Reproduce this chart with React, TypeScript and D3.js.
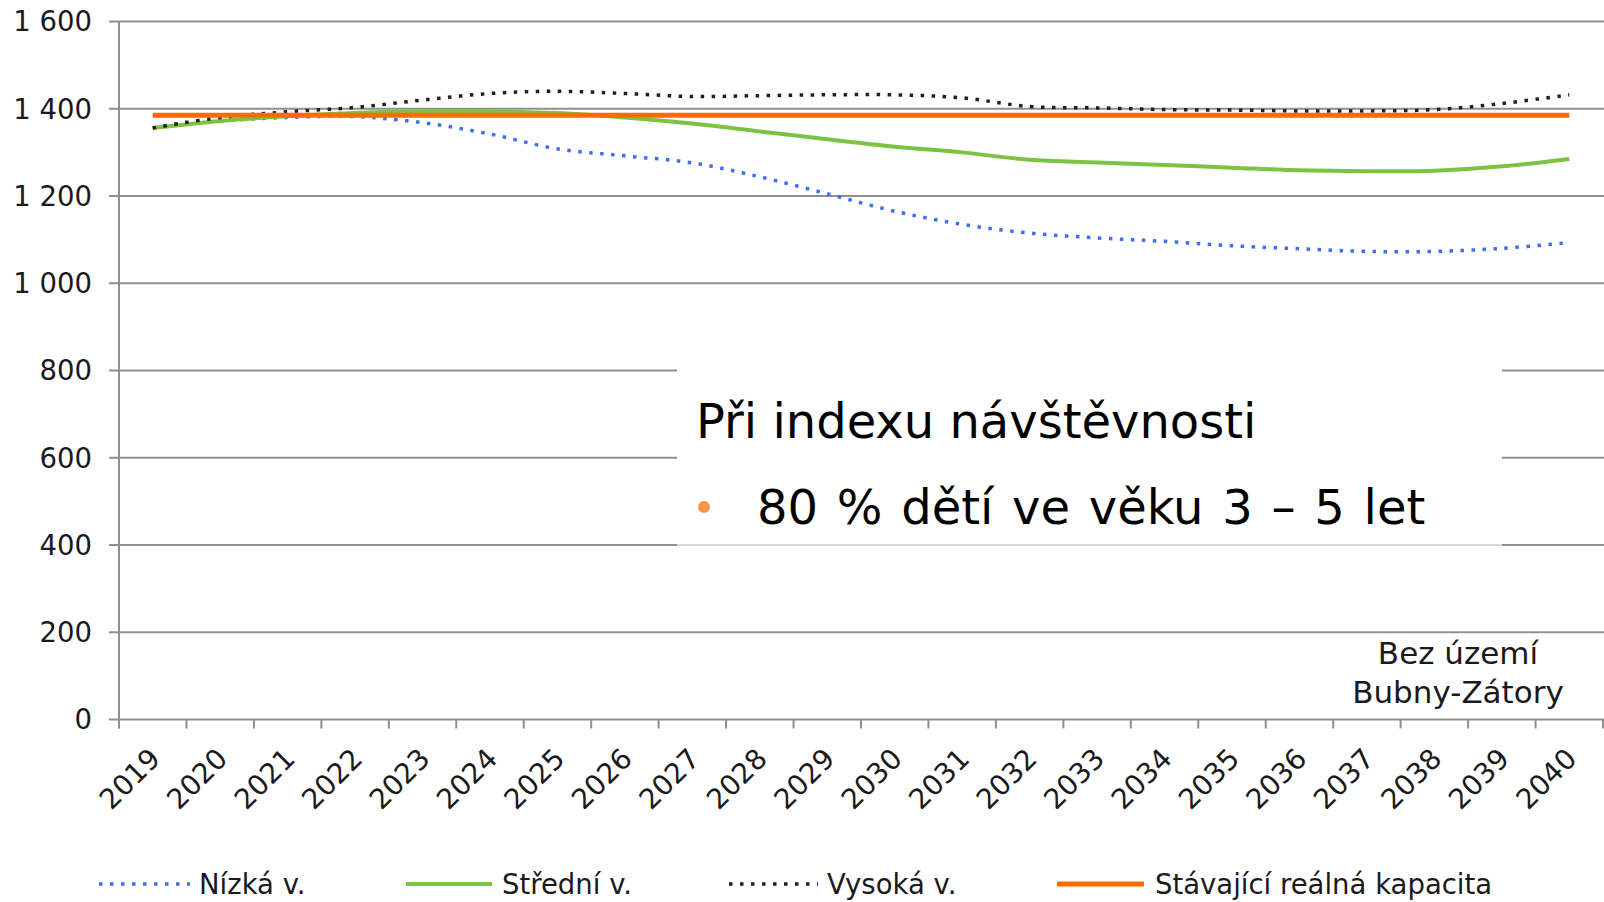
import { useEffect, useRef } from "react";
import * as d3 from "d3";

const years = [
    "2019", "2020", "2021", "2022", "2023", "2024", "2025", "2026", "2027", "2028", "2029",
    "2030", "2031", "2032", "2033", "2034", "2035", "2036", "2037", "2038", "2039", "2040",
];
const nizka = [
    1356, 1372, 1380, 1382, 1368, 1342, 1308, 1292, 1276, 1244, 1205,
    1165, 1135, 1115, 1104, 1096, 1086, 1079, 1073, 1073, 1080, 1093,
];
const stredni = [
    1356, 1372, 1383, 1390, 1394, 1394, 1390, 1380, 1366, 1348, 1330,
    1313, 1300, 1283, 1277, 1271, 1265, 1259, 1257, 1258, 1268, 1285,
];
const vysoka = [
    1356, 1380, 1393, 1403, 1420, 1435, 1440, 1435, 1428, 1430, 1432,
    1432, 1425, 1405, 1402, 1398, 1397, 1395, 1395, 1398, 1412, 1432,
];
const kapacita = [
    1385, 1385, 1385, 1385, 1385, 1385, 1385, 1385, 1385, 1385, 1385,
    1385, 1385, 1385, 1385, 1385, 1385, 1385, 1385, 1385, 1385, 1385,
];
const yTicks = [0, 200, 400, 600, 800, 1000, 1200, 1400, 1600];

const series = [
    { name: "Nízká v.", values: nizka, color: "#3f6ef5", width: 3.5, dash: "3.5 7.5" },
    { name: "Střední v.", values: stredni, color: "#7cc243", width: 4, dash: null },
    { name: "Vysoká v.", values: vysoka, color: "#1f1f1f", width: 3.5, dash: "3.5 7.5" },
    { name: "Stávající reálná kapacita", values: kapacita, color: "#ff6a00", width: 5, dash: null },
];

export default function App() {
    const svgRef = useRef<SVGSVGElement | null>(null);

    useEffect(() => {
        if (!svgRef.current) return;
        d3.select(svgRef.current).selectAll("*").remove();

        const width = 1604;
        const height = 902;
        const font = "DejaVu Sans, Verdana, sans-serif";

        const svg = d3
            .select(svgRef.current)
            .attr("width", width)
            .attr("height", height)
            .style("font-family", font);

        svg.append("rect").attr("width", width).attr("height", height).attr("fill", "#ffffff");

        const x = d3.scaleBand().domain(years).range([119, 1603]);
        const y = d3.scaleLinear().domain([0, 1600]).range([719.5, 21.5]);
        const fmt = d3.formatLocale({ thousands: " ", grouping: [3], decimal: ",", currency: ["", ""] }).format(",");

        // gridlines
        svg.append("g")
            .selectAll("line")
            .data(yTicks)
            .enter()
            .append("line")
            .attr("x1", 109)
            .attr("x2", width)
            .attr("y1", (d) => y(d))
            .attr("y2", (d) => y(d))
            .attr("stroke", "#8f8f8f")
            .attr("stroke-width", 2);

        // y axis line
        svg.append("line")
            .attr("x1", 119)
            .attr("x2", 119)
            .attr("y1", y(1600))
            .attr("y2", y(0) + 9)
            .attr("stroke", "#8f8f8f")
            .attr("stroke-width", 2);

        // x ticks at band boundaries
        const bounds = years.map((d) => x(d) as number).concat([x.range()[1]]);
        svg.append("g")
            .selectAll("line")
            .data(bounds)
            .enter()
            .append("line")
            .attr("x1", (d) => d)
            .attr("x2", (d) => d)
            .attr("y1", y(0))
            .attr("y2", y(0) + 9)
            .attr("stroke", "#8f8f8f")
            .attr("stroke-width", 2);

        // y labels
        svg.append("g")
            .selectAll("text")
            .data(yTicks)
            .enter()
            .append("text")
            .attr("x", 92)
            .attr("y", (d) => y(d))
            .attr("dy", "0.36em")
            .attr("text-anchor", "end")
            .attr("font-size", "27.5px")
            .attr("fill", "#1a1a1a")
            .text((d) => fmt(d));

        // x labels
        svg.append("g")
            .selectAll("text")
            .data(years)
            .enter()
            .append("text")
            .attr("transform", (d) => `translate(${(x(d) as number) + x.bandwidth() / 2 + 9},${y(0) + 41}) rotate(-45)`)
            .attr("text-anchor", "end")
            .attr("font-size", "28px")
            .attr("fill", "#1a1a1a")
            .text((d) => d);

        // lines
        const line = d3
            .line<number>()
            .x((_, i) => (x(years[i]) as number) + x.bandwidth() / 2)
            .y((d) => y(d))
            .curve(d3.curveCatmullRom.alpha(0.5));

        series.forEach((s) => {
            svg.append("path")
                .datum(s.values)
                .attr("d", line)
                .attr("fill", "none")
                .attr("stroke", s.color)
                .attr("stroke-width", s.width)
                .attr("stroke-dasharray", s.dash)
                .attr("stroke-linecap", "butt");
        });

        // text box over the chart
        svg.append("rect")
            .attr("x", 677)
            .attr("y", 352)
            .attr("width", 825)
            .attr("height", y(400) - 352 - 1)
            .attr("fill", "#ffffff");
        svg.append("line")
            .attr("x1", 677)
            .attr("x2", 1502)
            .attr("y1", y(400))
            .attr("y2", y(400))
            .attr("stroke", "#d9d9d9")
            .attr("stroke-width", 2);

        svg.append("text")
            .attr("x", 696)
            .attr("y", 438)
            .attr("font-size", "48px")
            .attr("fill", "#000000")
            .text("Při indexu návštěvnosti");
        svg.append("circle")
            .attr("cx", 704)
            .attr("cy", 507)
            .attr("r", 6)
            .attr("fill", "#f79646");
        svg.append("text")
            .attr("x", 757)
            .attr("y", 524)
            .attr("font-size", "48px")
            .attr("word-spacing", "3.5px")
            .attr("fill", "#000000")
            .text("80 % dětí ve věku 3 – 5 let");

        // note
        const note = svg.append("text")
            .attr("text-anchor", "middle")
            .attr("font-size", "31px")
            .attr("fill", "#1a1a1a");
        note.append("tspan").attr("x", 1458).attr("y", 664).text("Bez území");
        note.append("tspan").attr("x", 1458).attr("y", 703).text("Bubny-Zátory");

        // legend
        const legendItems = [
            { x1: 99, x2: 190, tx: 199 },
            { x1: 406, x2: 492, tx: 502 },
            { x1: 729, x2: 818, tx: 827 },
            { x1: 1057, x2: 1144, tx: 1155 },
        ];
        const legend = svg
            .selectAll(".legend")
            .data(series)
            .enter()
            .append("g")
            .attr("class", "legend");

        legend
            .append("line")
            .attr("x1", (_, i) => legendItems[i].x1)
            .attr("x2", (_, i) => legendItems[i].x2)
            .attr("y1", 884)
            .attr("y2", 884)
            .attr("stroke", (d) => d.color)
            .attr("stroke-width", (d) => d.width)
            .attr("stroke-dasharray", (d) => d.dash);

        legend
            .append("text")
            .attr("x", (_, i) => legendItems[i].tx)
            .attr("y", 884)
            .attr("dy", "0.36em")
            .attr("font-size", "27.5px")
            .attr("fill", "#1a1a1a")
            .text((d) => d.name);
    }, []);

    return <svg ref={svgRef} style={{ position: "absolute", left: 0, top: 0, display: "block" }} />;
}
